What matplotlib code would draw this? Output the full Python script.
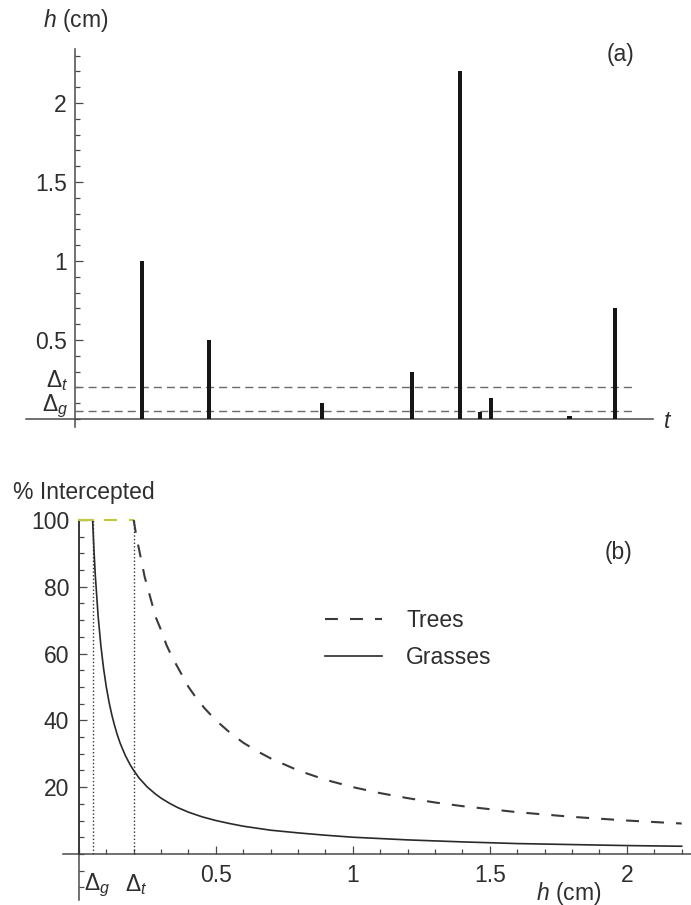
import numpy as np
import matplotlib
matplotlib.use('Agg')
import matplotlib.pyplot as plt
from matplotlib.ticker import FixedLocator, MultipleLocator

plt.rcParams['font.family'] = ['Liberation Sans', 'DejaVu Sans']
plt.rcParams['mathtext.fontset'] = 'custom'
plt.rcParams['mathtext.rm'] = 'Liberation Sans'
plt.rcParams['mathtext.it'] = 'Liberation Sans:italic'

#=================== data ===================
# panel (a): rainfall events, time axis scaled 0..100
event_t = [11.6, 23.2, 42.7, 58.3, 66.6, 70.1, 72.0, 85.5, 93.4]
event_h = [1.0, 0.5, 0.10, 0.30, 2.2, 0.045, 0.13, 0.02, 0.70]
delta_g = 0.05
delta_t = 0.2
t_end = 96.5

# panel (b): % intercepted vs storm depth
grass_h = [0.05, 0.055, 0.06, 0.07, 0.08, 0.09, 0.10, 0.11, 0.12, 0.13, 0.14,
           0.15, 0.16, 0.17, 0.18, 0.19, 0.20, 0.22, 0.25, 0.28, 0.30, 0.33,
           0.36, 0.40, 0.45, 0.50, 0.55, 0.60, 0.70, 0.80, 0.90, 1.0, 1.2,
           1.4, 1.6, 1.8, 2.0, 2.2]
grass_p = [100, 91, 83.3, 71.4, 62.5, 55.6, 50, 45.5, 41.7, 38.5, 35.7,
           33.3, 31.3, 29.4, 27.8, 26.3, 25, 22.7, 20, 17.9, 16.7, 15.2,
           13.9, 12.5, 11.1, 10, 9.1, 8.3, 7.1, 6.3, 5.6, 5.0, 4.2,
           3.6, 3.1, 2.8, 2.5, 2.3]
tree_h = [0.20, 0.21, 0.22, 0.23, 0.24, 0.25, 0.26, 0.28, 0.30, 0.32, 0.34,
          0.36, 0.38, 0.40, 0.43, 0.46, 0.50, 0.55, 0.60, 0.65, 0.70, 0.80,
          0.90, 1.0, 1.1, 1.2, 1.3, 1.4, 1.6, 1.8, 2.0, 2.2]
tree_p = [100, 95, 91, 87, 83, 80, 77, 71, 67, 62.5, 59,
          56, 53, 50, 46.5, 43.5, 40, 36.4, 33.3, 30.8, 28.6, 25,
          22.2, 20, 18.2, 16.7, 15.4, 14.3, 12.5, 11.1, 10, 9.1]

h_ticks = [0.5, 1, 1.5, 2]
h_ticklabels = ['0.5', '1', '1.5', '2']
a_ticks = [0.5, 1, 1.5, 2]
a_ticklabels = ['0.5', '1', '1.5', '2']
p_ticks = [20, 40, 60, 80, 100]

#=================== style ===================
fs = 16.5
axis_col = '#4a4a4a'
text_col = '#2e2e2e'
plateau_col = '#c3c83c'

fig = plt.figure(figsize=(6.91, 9.05), dpi=100)

def mathematica_axes(ax):
    for s in ['top', 'right']:
        ax.spines[s].set_visible(False)
    for s in ['left', 'bottom']:
        ax.spines[s].set_position(('data', 0))
        ax.spines[s].set_color(axis_col)
        ax.spines[s].set_linewidth(1.1)
    ax.patch.set_alpha(0)
    ax.tick_params(which='both', direction='in', color=axis_col, labelcolor=text_col,
                   labelsize=fs, width=0.9)
    ax.tick_params(which='major', length=6)
    ax.tick_params(which='minor', length=3.5)

#=================== panel (a) ===================
ax1 = fig.add_axes([26/691, 1-427/905, 627/691, 378/905])
mathematica_axes(ax1)
ax1.set_xlim(-8.48, 100)
ax1.set_ylim(-0.0506, 2.342)
ax1.bar(event_t, event_h, width=0.8, color='#161616', zorder=3)
ax1.hlines([delta_t, delta_g], 0, t_end, colors='#6a6a6a', linewidth=1.0,
           linestyles=(0, (5.8, 3.6)), zorder=2)
ax1.yaxis.set_major_locator(FixedLocator(a_ticks))
ax1.set_yticklabels(a_ticklabels)
ax1.yaxis.set_minor_locator(MultipleLocator(0.1))
ax1.tick_params(axis='y', pad=6)
ax1.tick_params(axis='x', which='both', bottom=False, labelbottom=False)
ax1.text(-1.2, delta_t + 0.045, r'$\Delta_t$', fontsize=fs, color=text_col, ha='right', va='center')
ax1.text(-1.2, delta_g + 0.03, r'$\Delta_g$', fontsize=fs, color=text_col, ha='right', va='center')

fig.text(43/691, 1-20/905, r'$h$ (cm)', fontsize=fs, color=text_col, ha='left', va='center')
fig.text(620/691, 1-55/905, '(a)', fontsize=fs, color=text_col, ha='center', va='center')
fig.text(668/691, 1-422/905, r'$t$', fontsize=fs, color=text_col, ha='center', va='center')

#=================== panel (b) ===================
ax2 = fig.add_axes([63/691, 1-900/905, 628/691, 380/905])
mathematica_axes(ax2)
ax2.set_xlim(-0.058, 2.234)
ax2.set_ylim(-13.8, 100)

ax2.vlines([delta_g, delta_t], 0, 100, colors='#333333', linewidth=1.0,
           linestyles=(0, (1.0, 1.6)), zorder=2)
ax2.plot([0, delta_t], [100, 100], color=plateau_col, linewidth=1.5,
         dashes=(6.2, 5.8), clip_on=False, zorder=3)
ax2.plot([0, 0, delta_g], [0, 100, 100], color='#333333', linewidth=1.2, clip_on=False, zorder=3)
ax2.plot([0, delta_g], [100, 100], color=plateau_col, linewidth=1.5, clip_on=False, zorder=4)
trees_line, = ax2.plot(tree_h, tree_p, color='#3a3a3a', linewidth=1.5,
                       dashes=(6.2, 5.8), clip_on=False, zorder=3, label='Trees')
grass_line, = ax2.plot(grass_h, grass_p, color='#2a2a2a', linewidth=1.2,
                       clip_on=False, zorder=3, label='Grasses')

ax2.xaxis.set_major_locator(FixedLocator(h_ticks))
ax2.set_xticklabels(h_ticklabels)
ax2.xaxis.set_minor_locator(MultipleLocator(0.1))
ax2.yaxis.set_major_locator(FixedLocator(p_ticks))
ax2.yaxis.set_minor_locator(MultipleLocator(5))
ax2.tick_params(axis='x', pad=7)
ax2.tick_params(axis='y', pad=7)

ax2.text(delta_g + 0.018, -9.3, r'$\Delta_g$', fontsize=fs, color=text_col, ha='center', va='center')
ax2.text(delta_t + 0.008, -9.3, r'$\Delta_t$', fontsize=fs, color=text_col, ha='center', va='center')

fig.text(13/691, 1-492/905, '% Intercepted', fontsize=fs, color=text_col, ha='left', va='center')
fig.text(618/691, 1-553/905, '(b)', fontsize=fs, color=text_col, ha='center', va='center')
fig.text(569/691, 1-893/905, r'$h$ (cm)', fontsize=fs, color=text_col, ha='center', va='center')

leg = fig.legend(handles=[trees_line, grass_line], loc='upper left',
                 bbox_to_anchor=(325/691, 1-609/905), frameon=False, fontsize=fs,
                 handlelength=2.49, handletextpad=1.05, labelspacing=0.6,
                 borderpad=0, borderaxespad=0)
for t in leg.get_texts():
    t.set_color(text_col)

fig.savefig('out.png', dpi=100)
